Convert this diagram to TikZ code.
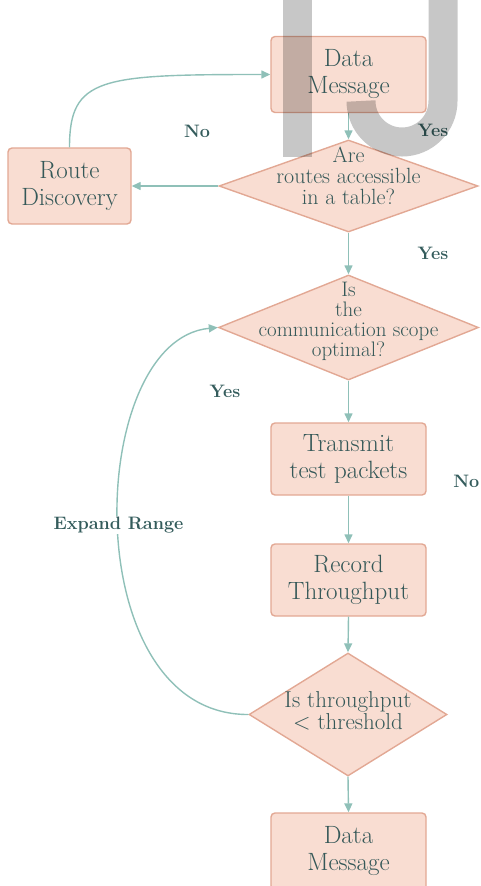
\documentclass[tikz,border=0pt]{standalone}
\usetikzlibrary{shapes.geometric,arrows.meta}
\definecolor{boxfill}{HTML}{F9DDD2}
\definecolor{boxline}{HTML}{E2A894}
\definecolor{edgec}{HTML}{8FC0B8}
\definecolor{txt}{HTML}{355858}
\definecolor{lbl}{HTML}{345C5C}
\begin{document}
\begin{tikzpicture}[x=1pt,y=-1pt,
  box/.style={draw=boxline, fill=boxfill, line width=1.4pt, rounded corners=4pt,
    minimum width=155pt, minimum height=76pt, inner sep=0pt, align=center,
    text=txt, font=\fontsize{25}{27}\selectfont},
  dia/.style={diamond, draw=boxline, fill=boxfill, line width=1.4pt, inner sep=0pt},
  dtext/.style={align=center, text=txt, inner sep=0pt},
  arr/.style={draw=edgec, line width=1.4pt, -{Triangle[length=9pt,width=8pt]}},
  lab/.style={text=lbl, font=\fontsize{18}{20}\selectfont\bfseries, inner sep=1pt},
  wm/.style={draw=black, draw opacity=0.22, line width=29pt}
]
\useasboundingbox (0,0) rectangle (481,886);

% nodes
\node[box] (dm1) at (348.5,74.5) {Data\\Message};
\node[box, minimum width=123pt] (rd) at (69.5,186) {Route\\Discovery};
\node[dia, minimum width=259pt, minimum height=92pt] (d1) at (348.5,186) {};
\node[dtext, font=\fontsize{22}{21}\selectfont] (d1t) at (348.5,176) {Are\\routes accessible\\in a table?};
\node[dia, minimum width=260pt, minimum height=105pt] (d2) at (348.5,327.5) {};
\node[dtext, font=\fontsize{21}{20}\selectfont] (d2t) at (348.5,321) {Is\\the\\communication scope\\optimal?};
\node[box, minimum height=72pt] (tp) at (348.5,459) {Transmit\\test packets};
\node[box, minimum height=72pt] (rt) at (348.5,580) {Record\\Throughput};
\node[dia, minimum width=198pt, minimum height=123pt] (d3) at (348,714.5) {};
\node[dtext, font=\fontsize{23}{22}\selectfont] (d3t) at (348,711) {Is throughput\\< threshold};
\node[box, minimum height=77pt] (dm2) at (348.5,851.5) {Data\\Message};

% connectors
\draw[arr] (dm1.south) -- (d1.north);
\draw[arr] (d1.west) -- (rd.east);
\draw[arr] (rd.north) .. controls +(0,-70) and +(-170,0) .. (dm1.west);
\draw[arr] (d1.south) -- (d2.north);
\draw[arr] (d2.south) -- (tp.north);
\draw[arr] (tp.south) -- (rt.north);
\draw[arr] (rt.south) -- (d3.north);
\draw[arr] (d3.south) -- (dm2.north);
\draw[arr] (d3.west) .. controls (75,715) and (85,340) .. (d2.west);

% labels
\node[lab] (l1) at (197,131) {No};
\node[lab] (l2) at (433,130) {Yes};
\node[lab] (l3) at (433,253) {Yes};
\node[lab] (l4) at (225,391) {Yes};
\node[lab, anchor=east] (l5) at (480.5,481) {No};
\node[lab, fill=white] (l6) at (118.5,525) {Expand Range};

% watermark
\draw[wm] (297.5,0) -- (297.5,157);
\draw[wm] (443,0) -- (443,101) arc[start angle=0, end angle=-180, radius=41pt];
\end{tikzpicture}
\end{document}
